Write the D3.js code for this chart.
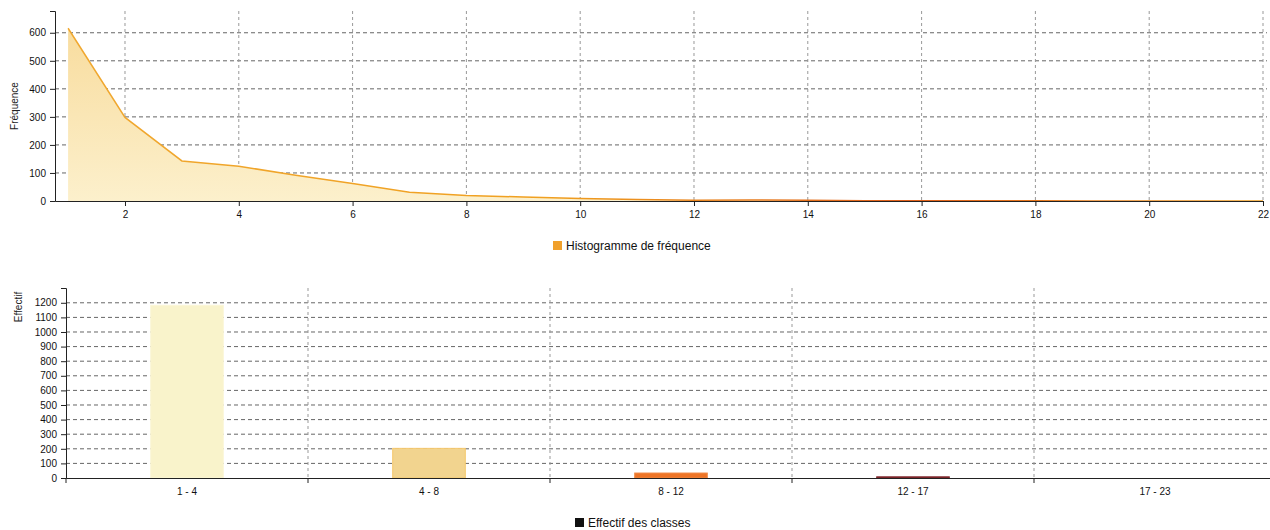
<!DOCTYPE html>
<html>
<head>
<meta charset="utf-8">
<script src="https://cdn.jsdelivr.net/npm/d3@7"></script>
<style>
  html, body { margin: 0; padding: 0; background: #fff; }
  svg { display: block; font-family: "Liberation Sans", Arial, sans-serif; }
  .tick text { fill: #111; font-size: 10px; }
  .grid line { stroke: #666; stroke-dasharray: 4 3; stroke-width: 1; }
  .vgrid line { stroke: #999; stroke-dasharray: 3 3; stroke-width: 1; }
</style>
</head>
<body>
<svg id="chart" width="1270" height="530"></svg>
<script>
// Frequency of each value (1..22)
const freqX = [1,2,3,4,5,6,7,8,9,10,11,12,13,14,15,16,17,18,19,20,21,22];
const freqY = [616,298,143,124,92,62,31,20,14,9,5,3,4,3,1,1,1,1,0,0,0,0];
const freqTicks = [2,4,6,8,10,12,14,16,18,20,22];

// Class counts
const classes = ["1 - 4", "4 - 8", "8 - 12", "12 - 17", "17 - 23"];
const classCounts = [1183, 203, 34, 8, 0];
const classTicks = [0,100,200,300,400,500,600,700,800,900,1000,1100,1200];
const classColors = ["#f9f3cb", "#f2d48f", "#ee7426", "#8e2a2f", "#5a1a1e"];
const classStrokes = ["#fbf6d6", "#f5c86c", "#f08a45", "#7a2428", "#4a1418"];

const svg = d3.select("#chart");
const defs = svg.append("defs");

const areaGrad = defs.append("linearGradient").attr("id", "areaFill")
  .attr("x1", 0).attr("y1", 0).attr("x2", 0).attr("y2", 1);
areaGrad.append("stop").attr("offset", "0%").attr("stop-color", "#f8dc9e");
areaGrad.append("stop").attr("offset", "100%").attr("stop-color", "#fcf0cc");

const lineGrad = defs.append("linearGradient").attr("id", "lineStroke")
  .attr("gradientUnits", "userSpaceOnUse")
  .attr("x1", 68).attr("y1", 0).attr("x2", 1263).attr("y2", 0);
lineGrad.append("stop").attr("offset", "0%").attr("stop-color", "#f0a830");
lineGrad.append("stop").attr("offset", "40%").attr("stop-color", "#f0a020");
lineGrad.append("stop").attr("offset", "70%").attr("stop-color", "#e0601c");
lineGrad.append("stop").attr("offset", "100%").attr("stop-color", "#f0a020");

// ---------- Top chart: frequency polygon ----------
const t = { left: 55, right: 1263, top: 11, bottom: 201 };
const xF = d3.scaleLinear().domain([0.77, 22]).range([t.left, t.right]);
const yF = d3.scaleLinear().domain([0, d3.max(freqY) * 1.1]).range([t.bottom, t.top]);

const gTop = svg.append("g");

// horizontal grid
gTop.append("g").attr("class", "grid")
  .selectAll("line").data(yF.ticks(6).filter(d => d > 0)).join("line")
  .attr("x1", t.left).attr("x2", 1267)
  .attr("y1", d => yF(d)).attr("y2", d => yF(d));
// vertical grid
gTop.append("g").attr("class", "vgrid")
  .selectAll("line").data(freqTicks).join("line")
  .attr("x1", d => xF(d)).attr("x2", d => xF(d))
  .attr("y1", t.top).attr("y2", t.bottom);

const pts = freqX.map((x, i) => [x, freqY[i]]);
gTop.append("path")
  .datum(pts)
  .attr("fill", "url(#areaFill)")
  .attr("d", d3.area().x(d => xF(d[0])).y0(yF(0)).y1(d => yF(d[1])));
gTop.append("path")
  .datum(pts)
  .attr("fill", "none")
  .attr("stroke", "url(#lineStroke)")
  .attr("stroke-width", 1.5)
  .attr("d", d3.line().x(d => xF(d[0])).y(d => yF(d[1])));

gTop.append("g").attr("transform", `translate(${t.left},0)`)
  .call(d3.axisLeft(yF).ticks(6).tickSize(5).tickPadding(4))
  .call(g => g.selectAll("path, line").attr("stroke", "#222"));
gTop.append("g").attr("transform", `translate(0,${t.bottom})`)
  .call(d3.axisBottom(xF).tickValues(freqTicks).tickSize(5).tickPadding(5).tickSizeOuter(0))
  .call(g => g.selectAll("path, line").attr("stroke", "#222"));

svg.append("text")
  .attr("transform", `translate(18,${(t.top + t.bottom) / 2}) rotate(-90)`)
  .attr("text-anchor", "middle").attr("font-size", 10).attr("fill", "#222")
  .text("Fréquence");

// legend top
svg.append("rect").attr("x", 553).attr("y", 241).attr("width", 9).attr("height", 9).attr("fill", "#f0a02c");
svg.append("text").attr("x", 566).attr("y", 250).attr("font-size", 12).attr("fill", "#111")
  .text("Histogramme de fréquence");

// ---------- Bottom chart: class counts ----------
const b = { left: 66, right: 1276, top: 288, bottom: 478 };
const xC = d3.scaleBand().domain(classes).range([b.left, b.right]);
const yC = d3.scaleLinear().domain([0, d3.max(classCounts) * 1.1]).range([b.bottom, b.top]);

const gBot = svg.append("g");
gBot.append("g").attr("class", "grid")
  .selectAll("line").data(classTicks.filter(d => d > 0)).join("line")
  .attr("x1", b.left).attr("x2", 1270)
  .attr("y1", d => yC(d)).attr("y2", d => yC(d));
gBot.append("g").attr("class", "vgrid")
  .selectAll("line").data(classes.slice(1)).join("line")
  .attr("x1", d => xC(d)).attr("x2", d => xC(d))
  .attr("y1", b.top).attr("y2", b.bottom);

const barW = xC.bandwidth() * 0.3;
gBot.selectAll("rect.bar").data(classes).join("rect")
  .attr("class", "bar")
  .attr("x", d => xC(d) + xC.bandwidth() / 2 - barW / 2)
  .attr("width", barW)
  .attr("y", (d, i) => yC(classCounts[i]))
  .attr("height", (d, i) => yC(0) - yC(classCounts[i]))
  .attr("fill", (d, i) => classColors[i])
  .attr("stroke", (d, i) => classStrokes[i])
  .attr("stroke-width", 1);

gBot.append("g").attr("transform", `translate(${b.left},0)`)
  .call(d3.axisLeft(yC).tickValues(classTicks).tickFormat(d3.format("d")).tickSize(5).tickPadding(4))
  .call(g => g.selectAll("path, line").attr("stroke", "#222"));

gBot.append("g").attr("transform", `translate(0,${b.bottom})`)
  .call(d3.axisBottom(xC).tickSize(0).tickPadding(10).tickSizeOuter(0))
  .call(g => g.selectAll("path").attr("stroke", "#222"));
// boundary ticks between classes
gBot.append("g").selectAll("line").data(classes).join("line")
  .attr("x1", d => xC(d)).attr("x2", d => xC(d))
  .attr("y1", b.bottom).attr("y2", b.bottom + 5)
  .attr("stroke", "#222");

svg.append("text")
  .attr("transform", `translate(22,307) rotate(-90)`)
  .attr("text-anchor", "middle").attr("font-size", 10).attr("fill", "#222")
  .text("Effectif");

// legend bottom
svg.append("rect").attr("x", 575).attr("y", 518).attr("width", 9).attr("height", 9).attr("fill", "#111");
svg.append("text").attr("x", 588).attr("y", 527).attr("font-size", 12).attr("fill", "#111")
  .text("Effectif des classes");
</script>
</body>
</html>
